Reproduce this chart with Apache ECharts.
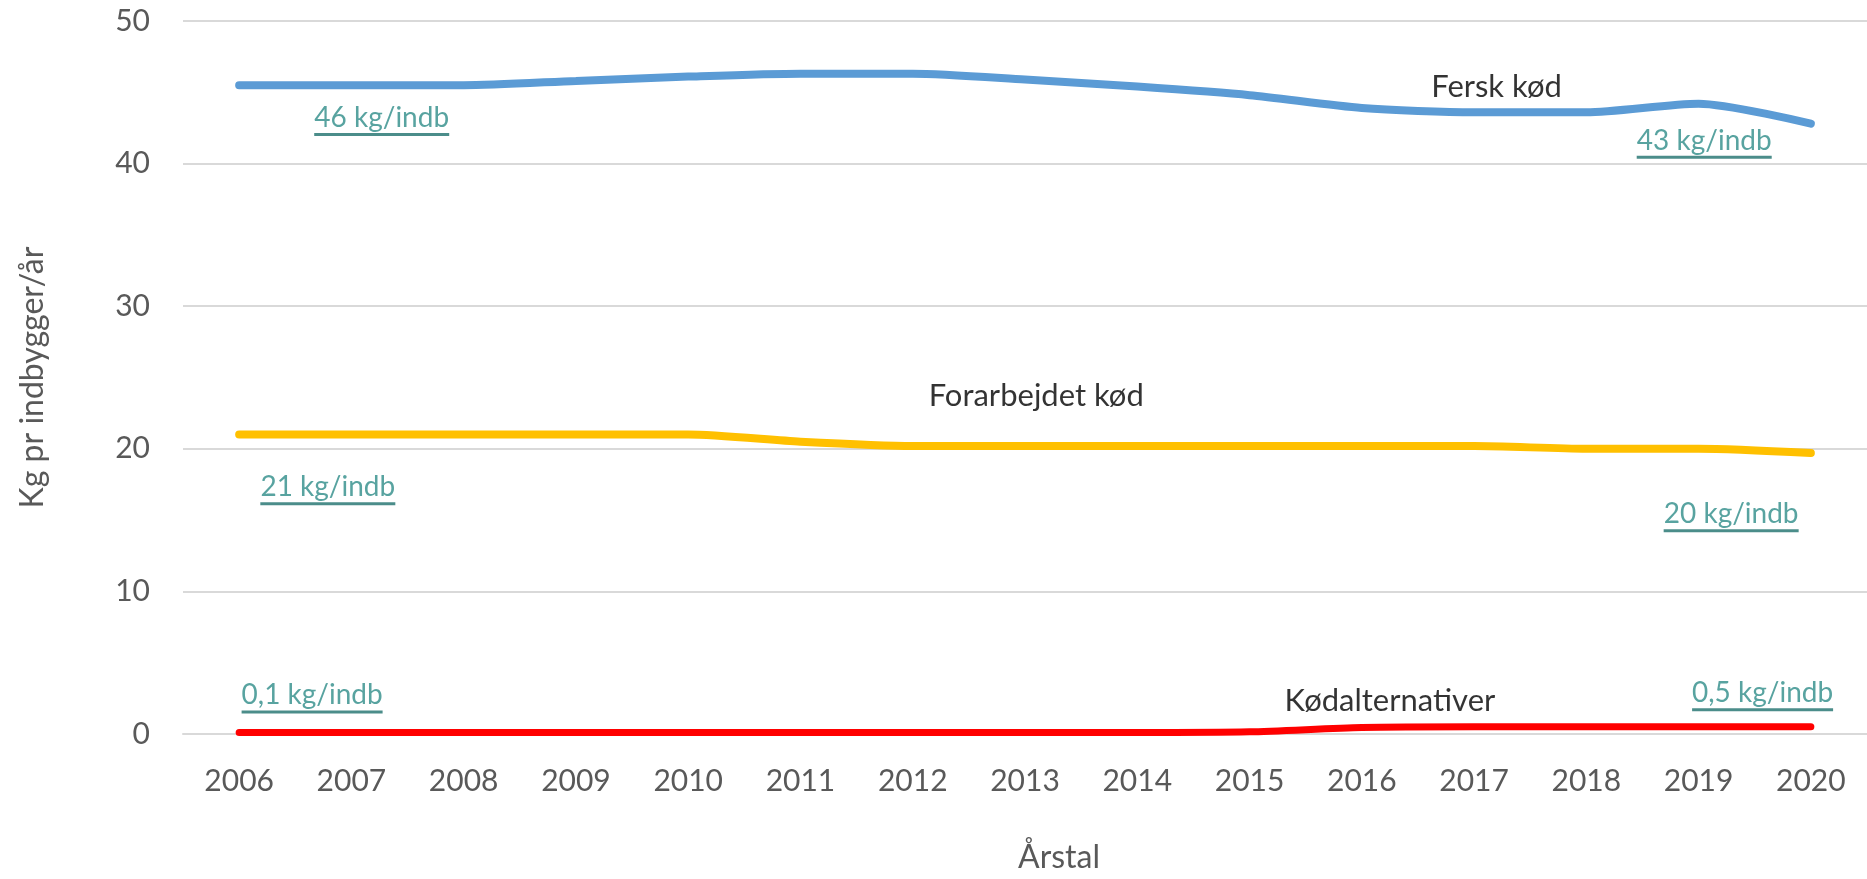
<!DOCTYPE html>
<html>
<head>
<meta charset="utf-8">
<title>Kødforbrug</title>
<script src="https://cdn.jsdelivr.net/npm/echarts@6/dist/echarts.min.js"></script>
<style>
  html, body { margin: 0; padding: 0; background: #fff; }
  #chart { width: 1867px; height: 879px; }
</style>
</head>
<body>
<div id="chart"></div>
<script>
// årstal
var years = ['2006', '2007', '2008', '2009', '2010', '2011', '2012', '2013',
             '2014', '2015', '2016', '2017', '2018', '2019', '2020'];
// kg pr indbygger pr år
var ferskKod = [45.5, 45.5, 45.5, 45.8, 46.1, 46.3, 46.3, 45.9, 45.4, 44.8, 43.9, 43.6, 43.6, 44.2, 42.8];
var forarbejdetKod = [21.0, 21.0, 21.0, 21.0, 21.0, 20.5, 20.2, 20.2, 20.2, 20.2, 20.2, 20.2, 20.0, 20.0, 19.7];
var kodalternativer = [0.1, 0.1, 0.1, 0.1, 0.1, 0.1, 0.1, 0.1, 0.1, 0.15, 0.45, 0.5, 0.5, 0.5, 0.5];
var yTicks = [0, 10, 20, 30, 40, 50];

// tekster i diagrammet: [år, værdi, tekst]
var seriesNames = [
    [2017.2, 45.4, 'Fersk kød'],
    [2013.1, 23.7, 'Forarbejdet kød'],
    [2016.25, 2.3, 'Kødalternativer']
];
var valueNotes = [
    [2007.27, 43.1, '46 kg/indb'],
    [2019.05, 41.5, '43 kg/indb'],
    [2006.79, 17.2, '21 kg/indb'],
    [2019.29, 15.3, '20 kg/indb'],
    [2006.65, 2.6, '0,1 kg/indb'],
    [2019.57, 2.75, '0,5 kg/indb']
];

var font = 'Lato';
var grey = '#595959';
var teal = '#2E8C88';
var noteSize = 28;

// bredde af teksten, til understregningen
var measureCtx = document.createElement('canvas').getContext('2d');
function textWidth(str, size) {
    measureCtx.font = size + 'px ' + font;
    return Math.round(measureCtx.measureText(str).width);
}

var myChart = echarts.init(document.getElementById('chart'));

function lineSeries(name, data, color, width) {
    return {
        name: name,
        type: 'line',
        data: data,
        smooth: 0.25,
        symbol: 'none',
        lineStyle: { color: color, width: width, cap: 'round' },
        z: 3
    };
}

var noteData = valueNotes.map(function (n) {
    return {
        value: n,
        label: {
            rich: {
                u: { width: textWidth(n[2], noteSize), height: 3, lineHeight: 3, fontSize: 2, backgroundColor: '#1E716D' }
            }
        }
    };
});

var option = {
    animation: false,
    grid: { left: 183, right: -14, top: 21, bottom: 143 },
    xAxis: [{
        type: 'category',
        data: years,
        boundaryGap: true,
        name: 'Årstal',
        nameLocation: 'middle',
        nameGap: 108,
        nameTextStyle: { fontFamily: font, fontSize: 32, color: grey, padding: [0, 0, 0, 68] },
        axisLine: { lineStyle: { color: '#D9D9D9', width: 2 } },
        axisTick: { show: false },
        axisLabel: { fontFamily: font, fontSize: 30, color: grey, margin: 32 }
    }, {
        type: 'value',
        min: 2005.5,
        max: 2020.5,
        show: false,
        splitLine: { show: false }
    }],
    yAxis: {
        type: 'value',
        min: yTicks[0],
        max: yTicks[yTicks.length - 1],
        interval: 10,
        name: 'Kg pr indbygger/år',
        nameLocation: 'middle',
        nameGap: 134,
        nameTextStyle: { fontFamily: font, fontSize: 32, color: grey },
        axisLine: { show: false },
        axisTick: { show: false },
        axisLabel: { fontFamily: font, fontSize: 30, color: grey, margin: 33 },
        splitLine: { lineStyle: { color: '#D9D9D9', width: 2 } }
    },
    series: [
        lineSeries('Fersk kød', ferskKod, '#5B9BD5', 8),
        lineSeries('Forarbejdet kød', forarbejdetKod, '#FFC000', 8),
        lineSeries('Kødalternativer', kodalternativer, '#FF0000', 7),
        {
            type: 'scatter',
            xAxisIndex: 1,
            data: seriesNames,
            symbolSize: 1,
            itemStyle: { color: 'rgba(0,0,0,0)' },
            silent: true,
            z: 5,
            label: {
                show: true,
                position: 'inside',
                fontFamily: font,
                fontSize: 31,
                color: '#000',
                formatter: function (p) { return p.data[2]; }
            }
        },
        {
            type: 'scatter',
            xAxisIndex: 1,
            data: noteData,
            symbolSize: 1,
            itemStyle: { color: 'rgba(0,0,0,0)' },
            silent: true,
            z: 5,
            label: {
                show: true,
                position: 'inside',
                formatter: function (p) { return '{t|' + p.value[2] + '}\n{u| }'; },
                rich: {
                    t: { fontFamily: font, fontSize: noteSize, color: teal, lineHeight: 30 },
                    u: { height: 3, lineHeight: 3, fontSize: 2, backgroundColor: '#1E716D' }
                }
            }
        }
    ]
};
myChart.setOption(option);
window.addEventListener('resize', function () {
    myChart.resize();
});
</script>
</body>
</html>
